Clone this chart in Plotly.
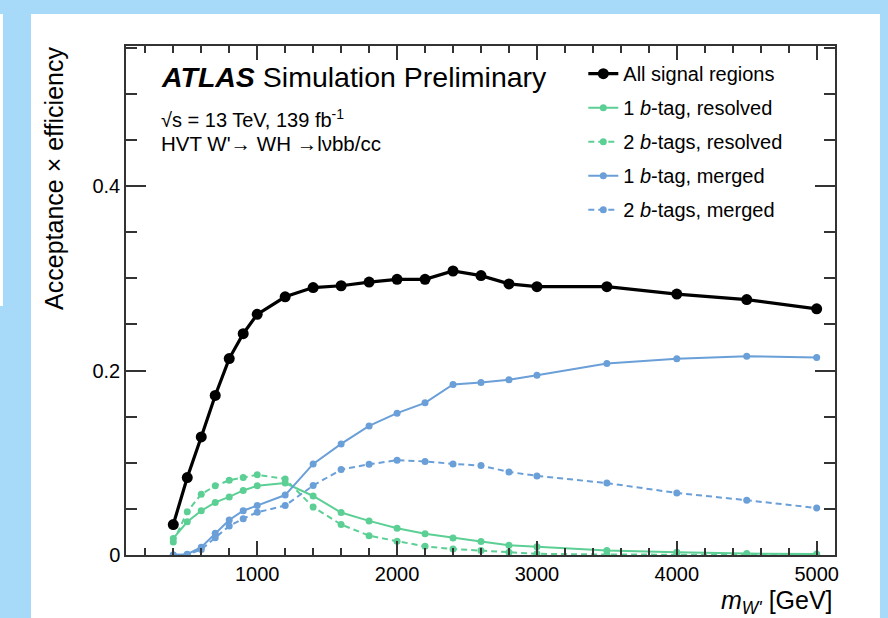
import plotly.graph_objects as go

# W' mass points [GeV]
mass = [400, 500, 600, 700, 800, 900, 1000, 1200, 1400, 1600, 1800, 2000,
        2200, 2400, 2600, 2800, 3000, 3500, 4000, 4500, 5000]

# Acceptance x efficiency per signal region
all_regions = [0.033, 0.084, 0.128, 0.173, 0.213, 0.240, 0.261, 0.280, 0.290,
               0.292, 0.296, 0.299, 0.299, 0.308, 0.303, 0.294, 0.291, 0.291,
               0.283, 0.277, 0.267]
one_tag_resolved = [0.018, 0.036, 0.048, 0.057, 0.063, 0.070, 0.075, 0.078,
                    0.064, 0.046, 0.037, 0.029, 0.023, 0.0185, 0.0146, 0.0107,
                    0.009, 0.005, 0.003, 0.0015, 0.001]
two_tag_resolved = [0.014, 0.047, 0.066, 0.075, 0.081, 0.084, 0.087, 0.0825,
                    0.052, 0.033, 0.021, 0.015, 0.0094, 0.0065, 0.0048, 0.003,
                    0.0013, 0.0005, 0.0003, 0.0002, 0.0001]
one_tag_merged = [0.0, 0.0008, 0.0084, 0.0236, 0.038, 0.048, 0.0536, 0.065,
                  0.0988, 0.1205, 0.140, 0.1538, 0.165, 0.1849, 0.187, 0.190,
                  0.195, 0.2077, 0.2128, 0.2155, 0.2142]
two_tag_merged = [0.0, 0.0005, 0.006, 0.0188, 0.0315, 0.0394, 0.0463, 0.0536,
                  0.0753, 0.0926, 0.0984, 0.1028, 0.1015, 0.0988, 0.097, 0.0901,
                  0.0858, 0.078, 0.0673, 0.0594, 0.051]

x_ticks = [1000, 2000, 3000, 4000, 5000]
y_ticks = [0, 0.2, 0.4]
y_tick_text = ["0", "0.2", "0.4"]

GREEN = "#5ccf95"
BLUE = "#6a9fd8"
FONT = "Liberation Sans, Arial, sans-serif"

fig = go.Figure()

series = [
    ("All signal regions", all_regions, "black", "solid", 3.2, 11),
    ("1 <i>b</i>-tag, resolved", one_tag_resolved, GREEN, "solid", 2, 7),
    ("2 <i>b</i>-tags, resolved", two_tag_resolved, GREEN, "6px,4px", 2, 7),
    ("1 <i>b</i>-tag, merged", one_tag_merged, BLUE, "solid", 2, 7),
    ("2 <i>b</i>-tags, merged", two_tag_merged, BLUE, "6px,4px", 2, 7),
]
# black is drawn last so it sits on top; legend keeps the listed order
for i, (name, vals, col, dash, lw, ms) in enumerate(series):
    fig.add_trace(go.Scatter(
        x=mass, y=vals, name=name, mode="lines+markers",
        line=dict(color=col, width=lw, dash=dash),
        marker=dict(color=col, size=ms),
        legendgroup=f"g{i}", legendrank=i + 1,
    ))
fig.data = fig.data[1:] + fig.data[:1]

axis_common = dict(
    showline=True, linecolor="#333333", linewidth=1.5, mirror="ticks",
    ticks="inside", tickcolor="#333333", tickwidth=1.5,
    showgrid=False, zeroline=False,
    tickfont=dict(family=FONT, size=20, color="black"),
)

fig.update_xaxes(range=[62, 5131], tickvals=x_ticks, ticklen=14,
                 minor=dict(dtick=200, tick0=0, ticks="inside", ticklen=7,
                            tickcolor="#333333", tickwidth=1.5),
                 **axis_common)
fig.update_yaxes(range=[0, 0.552], tickvals=y_ticks, ticktext=y_tick_text,
                 ticklen=20,
                 minor=dict(dtick=0.05, tick0=0, ticks="inside", ticklen=11,
                            tickcolor="#333333", tickwidth=1.5),
                 **axis_common)

# white panel over the light-blue page background
fig.add_shape(type="rect", xref="paper", yref="paper", layer="below",
              x0=-0.134, x1=1.0635, y0=-0.2, y1=1.0629,
              line=dict(width=0), fillcolor="white")
fig.add_shape(type="rect", xref="paper", yref="paper", layer="below",
              x0=-0.1777, x1=-0.1735, y0=0.489, y1=1.0629,
              line=dict(width=0), fillcolor="white")

fig.add_annotation(text="<b><i>ATLAS</i></b> Simulation Preliminary",
                   xref="paper", yref="paper", x=0.047, y=0.939,
                   xanchor="left", yanchor="middle", showarrow=False,
                   font=dict(family=FONT, size=28.5, color="black"))
fig.add_annotation(text="√s = 13 TeV, 139 fb<sup>-1</sup>",
                   xref="paper", yref="paper", x=0.047, y=0.8585,
                   xanchor="left", yanchor="middle", showarrow=False,
                   font=dict(family=FONT, size=20, color="black"))
fig.add_annotation(text="HVT W'→ WH →lνbb/cc",
                   xref="paper", yref="paper", x=0.047, y=0.8075,
                   xanchor="left", yanchor="middle", showarrow=False,
                   font=dict(family=FONT, size=20.5, color="black"))

# axis titles placed at the axis ends
fig.add_annotation(text="Acceptance × efficiency",
                   xref="paper", yref="paper", x=-0.1016, y=0.7407,
                   xanchor="center", yanchor="middle", textangle=-90,
                   showarrow=False,
                   font=dict(family=FONT, size=25, color="black"))
fig.add_annotation(text="<i>m</i><sub><i>W'</i></sub> [GeV]",
                   xref="paper", yref="paper", x=1.0, y=-0.093,
                   xanchor="right", yanchor="middle", showarrow=False,
                   font=dict(family=FONT, size=25, color="black"))

fig.update_layout(
    width=888, height=618,
    margin=dict(l=126, r=53, t=46, b=63),
    paper_bgcolor="#a7d9f9", plot_bgcolor="white",
    font=dict(family=FONT, color="black"),
    legend=dict(x=0.645, y=0.984, xanchor="left", yanchor="top",
                bgcolor="rgba(0,0,0,0)", tracegroupgap=5,
                traceorder="grouped",
                font=dict(family=FONT, size=20, color="black")),
)

fig.write_html("out.html")
